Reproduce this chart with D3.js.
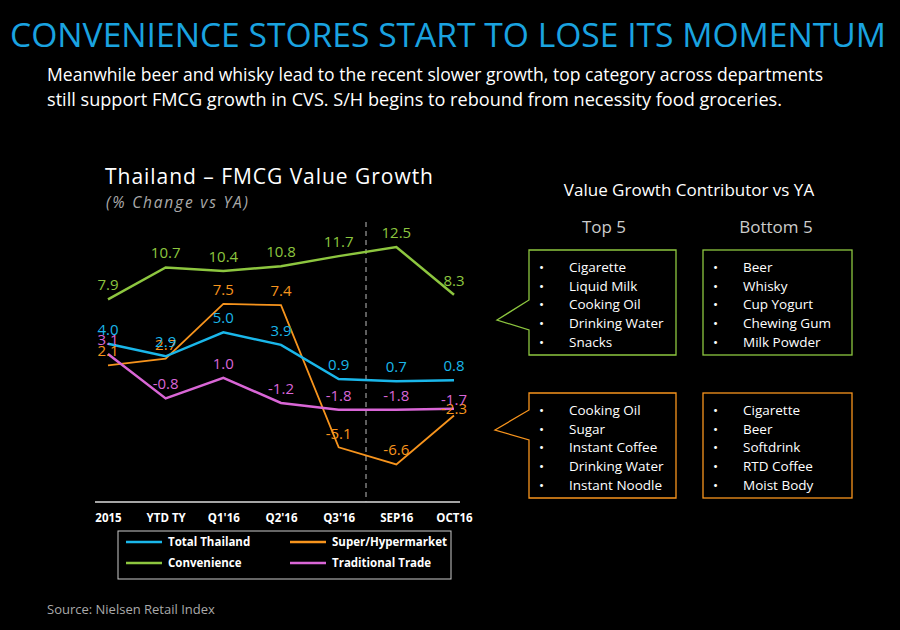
<!DOCTYPE html>
<html><head><meta charset="utf-8">
<script src="https://cdn.jsdelivr.net/npm/d3@7"></script>
<style>body{margin:0;background:#000}svg{display:block}text{font-family:"Open Sans",Calibri,sans-serif}</style>
</head><body><svg id="c" width="900" height="630"></svg>
<script>
const categories=["2015","YTD TY","Q1'16","Q2'16","Q3'16","SEP16","OCT16"];
const totalThailand=[4.0,2.9,5.0,3.9,0.9,0.7,0.8];
const convenience=[7.9,10.7,10.4,10.8,11.7,12.5,8.3];
const superHyper=[2.1,2.7,7.5,7.4,-5.1,-6.6,-2.3];
const traditional=[3.1,-0.8,1.0,-1.2,-1.8,-1.8,-1.7];
const seriesNames=["Total Thailand","Super/Hypermarket","Convenience","Traditional Trade"];
const top5a=["Cigarette","Liquid Milk","Cooking Oil","Drinking Water","Snacks"];
const bottom5a=["Beer","Whisky","Cup Yogurt","Chewing Gum","Milk Powder"];
const top5b=["Cooking Oil","Sugar","Instant Coffee","Drinking Water","Instant Noodle"];
const bottom5b=["Cigarette","Beer","Softdrink","RTD Coffee","Moist Body"];

const svg=d3.select("#c");
svg.append("rect").attr("width",900).attr("height",630).attr("fill","#000");
svg.append("text").attr("x",10).attr("y",47).attr("fill","#1aa3e0").attr("font-size",33).attr("textLength",876).attr("lengthAdjust","spacingAndGlyphs").text("CONVENIENCE STORES START TO LOSE ITS MOMENTUM");
svg.append("text").attr("x",47).attr("y",81).attr("fill","#fff").attr("font-size",17.5).attr("textLength",776).attr("lengthAdjust","spacingAndGlyphs").text("Meanwhile beer and whisky lead to the recent slower growth, top category across departments");
svg.append("text").attr("x",47).attr("y",106).attr("fill","#fff").attr("font-size",17.5).attr("textLength",735).attr("lengthAdjust","spacingAndGlyphs").text("still support FMCG growth in CVS.  S/H begins to rebound from necessity food groceries.");
svg.append("text").attr("x",105).attr("y",184).attr("fill","#fff").attr("font-size",21).attr("textLength",328).text("Thailand – FMCG Value Growth");
svg.append("text").attr("x",106).attr("y",208).attr("fill","#aaa").attr("font-size",15.5).attr("font-style","italic").attr("textLength",142).text("(% Change vs YA)");
svg.append("text").attr("x",47).attr("y",614).attr("fill","#aaa").attr("font-size",13).text("Source: Nielsen Retail Index");

const x=d3.scalePoint().domain(categories).range([108,454]);
const y=d3.scaleLinear().domain([-9.9,12.5]).range([502,247]);
svg.append("line").attr("x1",95).attr("x2",460).attr("y1",502).attr("y2",502).attr("stroke","#ddd").attr("stroke-width",1.5);
svg.append("line").attr("x1",366).attr("x2",366).attr("y1",222).attr("y2",502).attr("stroke","#bbb").attr("stroke-dasharray","5,4");
const ax=svg.append("g").attr("transform","translate(0,502)").call(d3.axisBottom(x).tickSize(0).tickPadding(12));
ax.select(".domain").remove();
ax.selectAll("text").attr("fill","#fff").attr("font-size",11.5).attr("font-weight","bold").attr("font-family","Liberation Sans,Arial,sans-serif");

const series=[
 {v:superHyper,c:"#f7941d",w:1.8},
 {v:traditional,c:"#d966d6",w:2.5},
 {v:totalThailand,c:"#1ab7ea",w:2.5},
 {v:convenience,c:"#8dc63f",w:2.5}];
const line=d3.line().x((d,i)=>x(categories[i])).y(d=>y(d));
series.forEach(s=>{
 svg.append("path").attr("d",line(s.v)).attr("fill","none").attr("stroke",s.c).attr("stroke-width",s.w);
});
series.forEach((s,si)=>{
 s.v.forEach((d,i)=>{
  let dy=-9;
  if(s.v===superHyper && i===6) dy=-1;
  if(s.v===traditional && i===6) dy=-4;
  if(s.v===superHyper && i===4) dy=-8;
  svg.append("text").attr("x",x(categories[i])).attr("y",y(d)+dy).attr("text-anchor","middle")
   .attr("fill",s.c).attr("font-size",15).attr("font-family","Liberation Sans,Arial,sans-serif").text(d.toFixed(1));
 });
});
// legend
svg.append("rect").attr("x",118).attr("y",531).attr("width",333).attr("height",48).attr("fill","none").attr("stroke","#ccc");
const leg=[[seriesNames[0],"#1ab7ea",126,546],[seriesNames[1],"#f7941d",290,546],[seriesNames[2],"#8dc63f",126,567],[seriesNames[3],"#d966d6",290,567]];
leg.forEach(l=>{
 svg.append("line").attr("x1",l[2]).attr("x2",l[2]+36).attr("y1",l[3]-4).attr("y2",l[3]-4).attr("stroke",l[1]).attr("stroke-width",2.5);
 svg.append("text").attr("x",l[2]+42).attr("y",l[3]).attr("fill","#fff").attr("font-size",11.5).attr("font-weight","bold").attr("font-family","Liberation Sans,Arial,sans-serif").text(l[0]);
});
// right side
svg.append("text").attr("x",689).attr("y",196).attr("text-anchor","middle").attr("fill","#fff").attr("font-size",17).text("Value Growth Contributor vs YA");
svg.append("text").attr("x",604).attr("y",233).attr("text-anchor","middle").attr("fill","#ccc").attr("font-size",17).text("Top 5");
svg.append("text").attr("x",776).attr("y",233).attr("text-anchor","middle").attr("fill","#ccc").attr("font-size",17).text("Bottom 5");
function box(x0,y0,w,h,col,items,callout){
 if(callout){
  svg.append("path").attr("d",`M${x0},${y0} H${x0+w} V${y0+h} H${x0} V${callout[3]} L${callout[0]},${callout[2]} L${x0},${callout[1]} Z`).attr("fill","none").attr("stroke",col).attr("stroke-width",1.3);
 } else svg.append("rect").attr("x",x0).attr("y",y0).attr("width",w).attr("height",h).attr("fill","none").attr("stroke",col).attr("stroke-width",1.3);
 items.forEach((t,i)=>{
  svg.append("text").attr("x",x0+10).attr("y",y0+22+i*18.7).attr("fill","#fff").attr("font-size",13.5).text("•");
  svg.append("text").attr("x",x0+40).attr("y",y0+22+i*18.7).attr("fill","#fff").attr("font-size",13.5).text(t);
 });
}
box(529,250,147,105,"#8dc63f",top5a,[497,300,320,330]);
box(703,250,149,105,"#8dc63f",bottom5a);
box(529,393,147,105,"#f7941d",top5b,[495,410,430,440]);
box(703,393,149,105,"#f7941d",bottom5b);
</script></body></html>
